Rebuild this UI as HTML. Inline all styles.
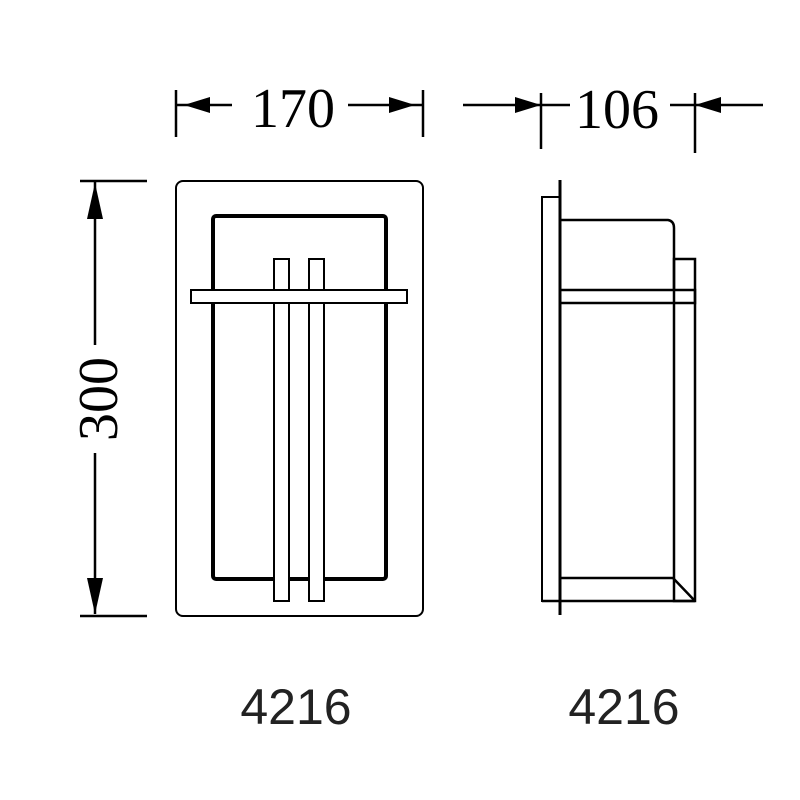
<!DOCTYPE html>
<html><head><style>body{margin:0;background:#fff}svg{display:block}</style></head>
<body>
<svg width="800" height="800" viewBox="0 0 800 800" xmlns="http://www.w3.org/2000/svg">
<defs>
<marker id="a" viewBox="0 0 10 10" refX="10" refY="5" markerWidth="10" markerHeight="10" markerUnits="userSpaceOnUse" orient="auto"><path d="M0,1 L10,5 L0,9 z" fill="#000"/></marker>
</defs>
<g stroke="#000" fill="none">
<!-- 170 dimension -->
<line x1="176" y1="90" x2="176" y2="137" stroke-width="2.5"/>
<line x1="423" y1="90" x2="423" y2="137" stroke-width="2.5"/>
<path d="M232 105 L176 105" stroke-width="2.5"/>
<path d="M184 105 l26 -8 v16 z" fill="#000" stroke="none"/>
<path d="M348 105 L423 105" stroke-width="2.5"/>
<path d="M415 105 l-26 -8 v16 z" fill="#000" stroke="none"/>
<!-- 106 dimension -->
<line x1="541" y1="93" x2="541" y2="149" stroke-width="2.5"/>
<line x1="695" y1="93" x2="695" y2="153" stroke-width="2.5"/>
<path d="M463 105 L570 105" stroke-width="2.5"/>
<path d="M541 105 l-26 -8 v16 z" fill="#000" stroke="none"/>
<path d="M670 105 L763 105" stroke-width="2.5"/>
<path d="M695 105 l26 -8 v16 z" fill="#000" stroke="none"/>
<!-- 300 dimension -->
<line x1="80" y1="181" x2="147" y2="181" stroke-width="2.5"/>
<line x1="80" y1="616" x2="147" y2="616" stroke-width="2.5"/>
<line x1="95" y1="182" x2="95" y2="345" stroke-width="2.5"/>
<line x1="95" y1="453" x2="95" y2="614" stroke-width="2.5"/>
<path d="M95 183 l-8 36 h16 z" fill="#000" stroke="none"/>
<path d="M95 614 l-8 -36 h16 z" fill="#000" stroke="none"/>
<!-- front view -->
<rect x="176" y="181" width="247" height="435" rx="7" stroke-width="2"/>
<rect x="213" y="216" width="173" height="363" rx="3" stroke-width="4"/>
<rect x="274" y="259" width="15" height="342" fill="#fff" stroke-width="2"/>
<rect x="309" y="259" width="15" height="342" fill="#fff" stroke-width="2"/>
<rect x="191" y="290" width="216" height="13" fill="#fff" stroke-width="2"/>
<!-- side view -->
<rect x="542" y="197" width="18" height="404" stroke-width="2"/>
<line x1="560" y1="180" x2="560" y2="615" stroke-width="3"/>
<path d="M560 220 L668 220 Q674 221 674 228 L674 290" stroke-width="2.5"/>
<rect x="674" y="259" width="21" height="342" stroke-width="2.5"/>
<rect x="560" y="290" width="135" height="13" stroke-width="2.5"/>
<path d="M560 578 L673 578 L695 601 M542 601 L695 601" stroke-width="2.5"/>
</g>
<g font-family="'Liberation Serif', serif" fill="#000">
<text x="293" y="127" font-size="56" text-anchor="middle">170</text>
<text x="617" y="128" font-size="56" text-anchor="middle">106</text>
<text transform="translate(117,399) rotate(-90)" font-size="56" text-anchor="middle">300</text>
</g>
<g font-family="'Liberation Sans', sans-serif" fill="#222" font-size="50">
<text x="296" y="724" text-anchor="middle">4216</text>
<text x="624" y="724" text-anchor="middle">4216</text>
</g>
</svg>
</body></html>
